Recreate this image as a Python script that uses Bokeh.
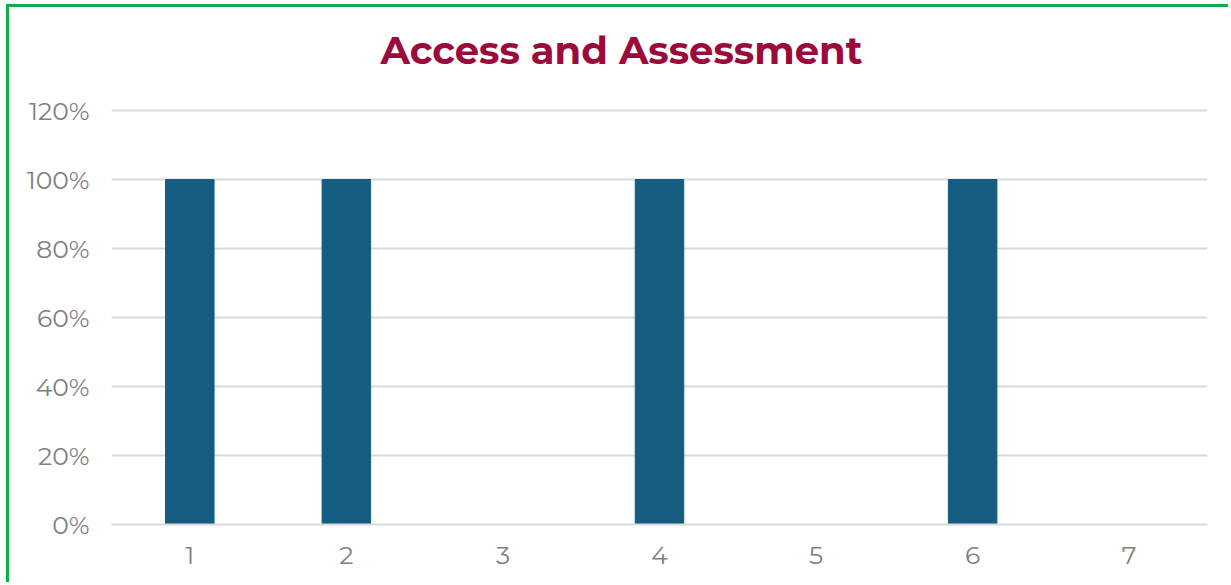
from bokeh.plotting import figure
from bokeh.models import Range1d, ColumnDataSource, NumeralTickFormatter, FixedTicker, Title
from bokeh.embed import file_html
from bokeh.resources import INLINE

title_text = "Access and Assessment"
categories = ["1", "2", "3", "4", "5", "6", "7"]
positions = [1, 2, 3, 4, 5, 6, 7]
values = [1.0, 1.0, 0.0, 1.0, 0.0, 1.0, 0.0]
y_ticks = [0, 0.2, 0.4, 0.6, 0.8, 1.0, 1.2]

src = ColumnDataSource(data=dict(x=positions, top=values))

p = figure(width=1222, height=578, output_backend="svg", toolbar_location=None,
           x_range=Range1d(0.5, 7.5), y_range=Range1d(0, 1.2087),
           min_border_left=102, min_border_right=24, min_border_top=100, min_border_bottom=61)
p.styles = {"border-top": "3px solid #0fad48", "border-left": "3px solid #0fad48",
            "margin-left": "6px", "margin-top": "4px"}

# thin spacer between chart frame and the title
p.add_layout(Title(text=" ", text_font_size="1px", standoff=14), "above")

p.title = Title(text=title_text, align="left",
                text_font="Montserrat, Open Sans", text_font_size="38.5px",
                text_font_style="bold", text_color="#9c0a3c",
                standoff=34, offset=269)
p.title.text_line_height = 1.0

p.vbar(x="x", top="top", width=0.31, source=src, color="#155d80")

p.outline_line_color = None
p.background_fill_color = "white"
p.border_fill_color = "white"

p.xgrid.grid_line_color = None
p.ygrid.ticker = FixedTicker(ticks=y_ticks)
p.ygrid.grid_line_color = "#d9d9d9"
p.ygrid.grid_line_width = 2

p.yaxis.ticker = FixedTicker(ticks=y_ticks)
p.yaxis.formatter = NumeralTickFormatter(format="0%")
p.yaxis.axis_line_color = None
p.yaxis.major_tick_line_color = None
p.yaxis.minor_tick_line_color = None
p.yaxis.major_label_standoff = 16

p.xaxis.ticker = FixedTicker(ticks=positions)
p.xaxis.major_label_overrides = {pos: c for pos, c in zip(positions, categories)}
p.xaxis.axis_line_color = "#d9d9d9"
p.xaxis.axis_line_width = 2
p.xaxis.major_tick_line_color = None
p.xaxis.minor_tick_line_color = None
p.xaxis.major_label_standoff = 16

for ax in (p.xaxis, p.yaxis):
    ax.major_label_text_font = "Montserrat, Open Sans"
    ax.major_label_text_font_size = "25px"
    ax.major_label_text_color = "#808080"

open("out.html", "w").write(file_html(p, INLINE))
